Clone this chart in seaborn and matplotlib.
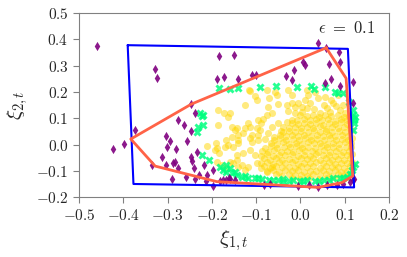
import numpy as np
import pandas as pd
import matplotlib as mpl
import matplotlib.pyplot as plt
import seaborn as sns

sns.set_style("ticks")
plt.rcParams["mathtext.fontset"] = "cm"
plt.rcParams["font.family"] = ["DejaVu Serif"]

# ---- data ----
gold_x = [
    -0.116, -0.103, -0.099, -0.125, -0.076, -0.057, -0.054, -0.070, -0.073, -0.050,
    -0.031, -0.020, -0.012, -0.005, 0.003, -0.028, -0.012, 0.003, -0.159, -0.163,
    -0.065, -0.076, -0.118, -0.114, -0.125, -0.095, -0.084, -0.088, -0.099, -0.092,
    -0.065, -0.050, -0.039, -0.031, -0.020, -0.148, -0.140, -0.155, -0.129, -0.110,
    -0.095, -0.114, -0.073, -0.186, -0.172, -0.186, -0.212, -0.191, -0.193, -0.183,
    -0.170, -0.163, -0.167, -0.189, -0.178, -0.155, -0.144, -0.189, -0.152, -0.140,
    -0.159, -0.152, -0.144, -0.140, -0.167, -0.114, -0.028, -0.020, 0.010, 0.033,
    0.040, 0.055, 0.070, 0.085, 0.018, 0.014, 0.021, 0.052, 0.074, 0.067,
    0.044, 0.089, 0.100, -0.140, -0.110, -0.095, -0.144, -0.129, -0.114, -0.103,
    -0.133, -0.118, -0.099, -0.088, -0.125, -0.076, -0.065, 0.030, 0.015, 0.060,
    0.095, 0.080, -0.045, -0.060, -0.080,
    0.000, 0.014, 0.028, 0.042, 0.056, 0.070, 0.084, 0.098, 0.110,
    -0.007, 0.007, 0.021, 0.035, 0.049, 0.063, 0.077, 0.091, 0.105, 0.114,
    -0.020, -0.006, 0.008, 0.022, 0.036, 0.050, 0.064, 0.078, 0.092, 0.106,
    -0.027, -0.013, 0.001, 0.015, 0.029, 0.043, 0.057, 0.071, 0.085, 0.099, 0.112,
    -0.040, -0.026, -0.012, 0.002, 0.016, 0.030, 0.044, 0.058, 0.072, 0.086, 0.100, 0.114,
    -0.047, -0.033, -0.019, -0.005, 0.009, 0.023, 0.037, 0.051, 0.065, 0.079, 0.093, 0.107,
    -0.060, -0.046, -0.032, -0.018, -0.004, 0.010, 0.024, 0.038, 0.052, 0.066, 0.080, 0.094, 0.108, 0.116,
    -0.067, -0.053, -0.039, -0.025, -0.011, 0.003, 0.017, 0.031, 0.045, 0.059, 0.073, 0.087, 0.101, 0.113,
    -0.080, -0.066, -0.052, -0.038, -0.024, -0.010, 0.004, 0.018, 0.032, 0.046, 0.060, 0.074, 0.088, 0.102, 0.115,
    -0.087, -0.073, -0.059, -0.045, -0.031, -0.017, -0.003, 0.011, 0.025, 0.039, 0.053, 0.067, 0.081, 0.095, 0.109,
    -0.090, -0.076, -0.062, -0.048, -0.034, -0.020, -0.006, 0.008, 0.022, 0.036, 0.050, 0.064, 0.078, 0.092, 0.106, 0.117,
    -0.083, -0.069, -0.055, -0.041, -0.027, -0.013, 0.001, 0.015, 0.029, 0.043, 0.057, 0.071, 0.085, 0.099, 0.112,
    -0.090, -0.076, -0.062, -0.048, -0.034, -0.020, -0.006, 0.008, 0.022, 0.036, 0.050, 0.064, 0.078, 0.092, 0.106, 0.117,
    -0.083, -0.069, -0.055, -0.041, -0.027, -0.013, 0.001, 0.015, 0.029, 0.043, 0.057, 0.071, 0.085, 0.099, 0.112,
    -0.076, -0.062, -0.048, -0.034, -0.020, -0.006, 0.008, 0.022, 0.036, 0.050, 0.064, 0.078, 0.092, 0.106,
    -0.055, -0.041, -0.027, -0.013, 0.001, 0.015, 0.029, 0.043, 0.057, 0.071, 0.085, 0.099, 0.110,
    -0.020, 0.000, 0.020, 0.040, 0.060, 0.080, 0.098,
]
gold_y = [
    0.207, 0.186, 0.169, 0.150, 0.207, 0.201, 0.188, 0.176, 0.144, 0.154,
    0.150, 0.157, 0.144, 0.157, 0.144, 0.129, 0.119, 0.125, 0.119, 0.106,
    0.119, 0.112, 0.081, 0.068, 0.062, 0.093, 0.096, 0.081, 0.062, 0.055,
    0.068, 0.081, 0.068, 0.087, 0.093, 0.055, 0.036, 0.030, 0.043, 0.036,
    0.036, 0.024, 0.043, 0.131, 0.119, 0.074, -0.006, 0.005, -0.021, -0.031,
    -0.008, -0.002, 0.017, -0.065, -0.078, 0.068, 0.062, -0.014, -0.010, 0.005,
    -0.065, -0.071, -0.059, -0.084, -0.090, 0.203, 0.207, 0.188, 0.169, 0.201,
    0.176, 0.182, 0.169, 0.188, 0.188, 0.207, 0.157, 0.150, 0.157, 0.125,
    0.119, 0.131, 0.119, 0.017, 0.011, 0.017, -0.040, -0.033, -0.021, -0.040,
    -0.078, -0.084, -0.071, -0.090, -0.097, -0.103, -0.084, 0.135, 0.140, 0.140,
    0.150, 0.145, 0.050, 0.030, 0.020,
    0.113, 0.107, 0.111, 0.105, 0.114, 0.108, 0.112, 0.106, 0.110,
    0.093, 0.098, 0.092, 0.097, 0.094, 0.099, 0.091, 0.096, 0.093, 0.098,
    0.082, 0.077, 0.083, 0.078, 0.081, 0.076, 0.083, 0.079, 0.084, 0.077,
    0.063, 0.068, 0.062, 0.067, 0.064, 0.069, 0.061, 0.066, 0.063, 0.068, 0.064,
    0.048, 0.053, 0.047, 0.052, 0.049, 0.054, 0.046, 0.051, 0.048, 0.053, 0.047, 0.051,
    0.037, 0.032, 0.038, 0.033, 0.036, 0.031, 0.038, 0.034, 0.037, 0.032, 0.036, 0.033,
    0.018, 0.023, 0.017, 0.022, 0.019, 0.024, 0.016, 0.021, 0.018, 0.023, 0.017, 0.022, 0.019, 0.024,
    0.007, 0.002, 0.008, 0.003, 0.006, 0.001, 0.008, 0.004, 0.007, 0.002, 0.006, 0.003, 0.008, 0.004,
    -0.012, -0.007, -0.013, -0.008, -0.011, -0.006, -0.013, -0.009, -0.012, -0.007, -0.011, -0.008, -0.013, -0.009, -0.011,
    -0.023, -0.028, -0.022, -0.027, -0.024, -0.029, -0.021, -0.026, -0.023, -0.028, -0.022, -0.027, -0.024, -0.029, -0.023,
    -0.042, -0.037, -0.043, -0.038, -0.041, -0.036, -0.043, -0.039, -0.042, -0.037, -0.041, -0.038, -0.043, -0.039, -0.041, -0.037,
    -0.053, -0.058, -0.052, -0.057, -0.054, -0.059, -0.051, -0.056, -0.053, -0.058, -0.052, -0.057, -0.054, -0.059, -0.053,
    -0.072, -0.067, -0.073, -0.068, -0.071, -0.066, -0.073, -0.069, -0.072, -0.067, -0.071, -0.068, -0.073, -0.069, -0.071, -0.067,
    -0.083, -0.088, -0.082, -0.087, -0.084, -0.089, -0.081, -0.086, -0.083, -0.088, -0.082, -0.087, -0.084, -0.089, -0.083,
    -0.102, -0.097, -0.103, -0.098, -0.101, -0.096, -0.103, -0.099, -0.102, -0.097, -0.101, -0.098, -0.103, -0.099,
    -0.113, -0.118, -0.112, -0.117, -0.114, -0.119, -0.111, -0.116, -0.113, -0.118, -0.112, -0.117, -0.114,
    -0.127, -0.130, -0.126, -0.131, -0.128, -0.129, -0.126,
]

green_x = [-0.183, -0.159, -0.140, -0.091, -0.055, -0.007, 0.023, 0.031, 0.055, 0.078, 0.085, 0.095,
           -0.223, -0.231, -0.221, -0.234, -0.227, -0.219, -0.223, -0.206, -0.182, -0.174, -0.167, -0.167,
           -0.155, -0.144, -0.133, -0.118, -0.103, -0.087, -0.050, -0.039, -0.027, -0.016,
           0.014, 0.033, 0.052, 0.074, 0.089, 0.104, 0.116, 0.119, 0.123,
           0.110, 0.119, 0.119, 0.121, 0.123, 0.121, 0.118,
           -0.070, 0.000, -0.160, -0.148, -0.125, -0.095, -0.062, -0.040, 0.005, 0.042, 0.064, 0.095, 0.112]
green_y = [0.214, 0.210, 0.217, 0.220, 0.222, 0.218, 0.222, 0.212, 0.218, 0.201, 0.197, 0.195,
           0.108, 0.068, 0.074, 0.049, 0.119, 0.112, -0.040, -0.059, -0.084, -0.097, -0.078, -0.103,
           -0.110, -0.116, -0.122, -0.126, -0.129, -0.131, -0.135, -0.141, -0.139, -0.135,
           -0.135, -0.139, -0.135, -0.129, -0.126, -0.122, -0.097, -0.084, -0.075,
           0.163, 0.131, 0.112, 0.093, 0.106, 0.081, 0.055,
           -0.133, -0.137, -0.090, -0.105, -0.118, -0.128, -0.136, -0.132, -0.140, -0.138, -0.133, -0.128, -0.112]

purple_x = [-0.459, -0.328, -0.323, -0.183, -0.188, -0.172, -0.246, -0.149, 0.039, 0.087,
            0.064, 0.089, 0.005, 0.010, -0.014, -0.109, -0.101, -0.033, -0.020, 0.070,
            0.055, 0.089, 0.118, 0.119, -0.142, 0.057,
            -0.424, -0.398, -0.373, -0.277, -0.263, -0.246, -0.238, -0.304, -0.295, -0.302,
            -0.280, -0.257, -0.234, -0.312, -0.287, -0.284, -0.304, -0.276, -0.246, -0.245,
            -0.336, -0.240, -0.218, -0.198, -0.291, -0.258, -0.238, -0.228, -0.213, -0.212,
            -0.198, -0.176, -0.167, -0.182, -0.159, -0.148, -0.161, -0.082, -0.069, -0.006,
            0.020, 0.040, 0.059, 0.082, 0.097, 0.112, 0.121, 0.119]
purple_y = [0.376, 0.286, 0.252, 0.338, 0.250, 0.257, 0.154, 0.341, 0.385, 0.351,
            0.305, 0.313, 0.314, 0.303, 0.283, 0.265, 0.263, 0.262, 0.244, 0.248,
            0.235, 0.222, 0.238, 0.159, 0.249, 0.368,
            -0.017, 0.003, 0.055, 0.093, 0.074, 0.051, 0.119, 0.032, 0.012, -0.008,
            -0.018, 0.014, -0.030, -0.046, -0.072, -0.065, -0.078, -0.089, -0.046, -0.062,
            -0.078, -0.091, -0.078, -0.097, -0.132, -0.122, -0.132, -0.116, -0.139, -0.116,
            -0.158, -0.135, -0.135, -0.138, -0.130, -0.135, -0.129, -0.154, -0.151, -0.158,
            -0.154, -0.160, -0.154, -0.154, -0.151, -0.144, -0.131, -0.135]

blue_x = [-0.390, 0.107, 0.121, -0.377, -0.390]
blue_y = [0.378, 0.364, -0.163, -0.150, 0.378]

coral_x = [0.058, 0.103, 0.118, 0.093, 0.040, -0.189, -0.328, -0.383, -0.246, 0.058]
coral_y = [0.368, 0.252, -0.120, -0.145, -0.163, -0.141, -0.082, 0.021, 0.154, 0.368]

xticks = [-0.5, -0.4, -0.3, -0.2, -0.1, 0.0, 0.1, 0.2]
yticks = [-0.2, -0.1, 0.0, 0.1, 0.2, 0.3, 0.4, 0.5]

gold = pd.DataFrame({"x": gold_x, "y": gold_y})
green = pd.DataFrame({"x": green_x, "y": green_y})
purple = pd.DataFrame({"x": purple_x, "y": purple_y})

fig, ax = plt.subplots(figsize=(4.07, 2.57), dpi=100)
fig.subplots_adjust(left=0.194, right=0.956, bottom=0.233, top=0.949)

sns.scatterplot(data=gold, x="x", y="y", ax=ax, color="gold", s=26, alpha=0.5, linewidth=0)
sns.scatterplot(data=green, x="x", y="y", ax=ax, color="springgreen", marker="X", s=34, alpha=0.85, linewidth=0)
sns.scatterplot(data=purple, x="x", y="y", ax=ax, color="purple", marker="d", s=22, alpha=0.9, linewidth=0)

ax.plot(blue_x, blue_y, color="blue", lw=1.5)
ax.plot(coral_x, coral_y, color="tomato", lw=2)

ax.text(0.103, 0.44, r"$\epsilon\ =\ 0.1$", ha="center", va="center", fontsize=12)

ax.set_xlim(-0.5, 0.2)
ax.set_ylim(-0.2, 0.5)
ax.set_xticks(xticks, labels=[f"${v:.1f}$" for v in xticks])
ax.set_yticks(yticks, labels=[f"${v:.1f}$" for v in yticks])
ax.tick_params(labelsize=11, color="0.5", length=4)
for sp in ax.spines.values():
    sp.set_color("0.5")
ax.set_xlabel(r"$\xi_{1,t}$", fontsize=15)
ax.set_ylabel(r"$\xi_{2,t}$", fontsize=15)

fig.savefig("out.png", dpi=100)
